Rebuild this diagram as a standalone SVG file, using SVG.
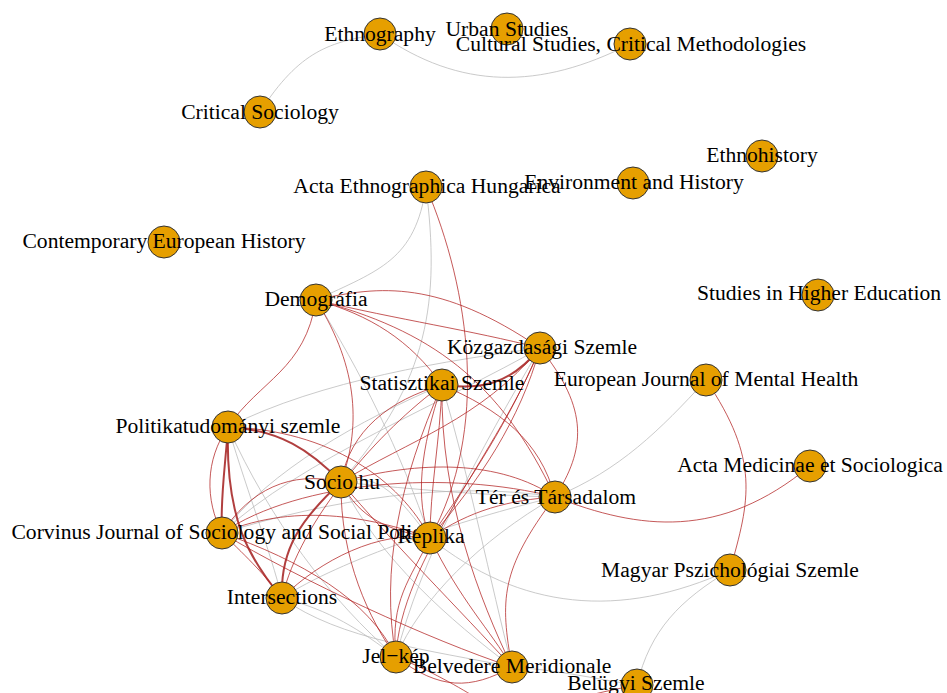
<svg xmlns="http://www.w3.org/2000/svg" width="947" height="693" viewBox="0 0 947 693">
<style>
.g{fill:none;stroke:#b8b8b8;stroke-opacity:0.75;stroke-width:1}
.r{fill:none;stroke:#b22222;stroke-opacity:0.75;stroke-width:1}
.rt{fill:none;stroke:#a31d1d;stroke-opacity:0.85;stroke-width:2}
.n circle{fill:#E69F00;stroke:#333333;stroke-width:1}
.n text{font-family:"Liberation Serif","Times New Roman",serif;font-size:21.6px;fill:#000;text-anchor:middle}
</style>
<rect width="947" height="693" fill="#ffffff"/>
<g id="connectors">
<path class="g" d="M380,34 C330,42 300,50 260,112"/>
<path class="g" d="M380,34 C460,90 540,90 630,44"/>
<path class="g" d="M426,187 C415,260 380,270 316,300"/>
<path class="g" d="M426,187 C440,300 430,380 341,482"/>
<path class="g" d="M316,300 C360,370 400,450 430,538"/>
<path class="g" d="M540,348 C450,360 320,380 228,427"/>
<path class="g" d="M540,348 C450,400 300,460 222,533"/>
<path class="g" d="M442,385 C360,420 270,470 222,533"/>
<path class="g" d="M228,427 C250,500 270,550 282,598"/>
<path class="g" d="M228,427 C270,520 330,600 396,657"/>
<path class="g" d="M341,482 C420,490 480,495 555,497"/>
<path class="g" d="M222,533 C330,500 450,480 555,497"/>
<path class="g" d="M282,598 C330,610 360,630 396,657"/>
<path class="g" d="M282,598 C340,640 430,650 512,667"/>
<path class="g" d="M430,538 C520,610 620,620 730,570"/>
<path class="g" d="M555,497 C620,470 660,430 706,380"/>
<path class="g" d="M730,570 C680,600 650,630 637,685"/>
<path class="g" d="M512,667 C560,670 600,680 637,685"/>
<path class="g" d="M555,497 C480,540 420,600 396,657"/>
<path class="g" d="M540,348 C480,450 420,560 396,657"/>
<path class="g" d="M442,385 C470,480 490,580 512,667"/>
<path class="g" d="M341,482 C380,560 450,620 512,667"/>
<path class="g" d="M282,598 C340,560 460,520 555,497"/>
<path class="g" d="M341,482 C380,470 400,500 430,538"/>
<path class="r" d="M316,300 C380,285 440,280 540,348"/>
<path class="r" d="M316,300 C370,315 410,340 442,385"/>
<path class="r" d="M316,300 C430,330 500,380 555,497"/>
<path class="r" d="M316,300 C400,320 470,330 540,348"/>
<path class="r" d="M316,300 C305,370 260,380 228,427"/>
<path class="r" d="M316,300 C360,370 360,430 341,482"/>
<path class="r" d="M426,187 C470,290 490,430 430,538"/>
<path class="rt" d="M540,348 C510,385 480,390 442,385"/>
<path class="r" d="M540,348 C590,410 585,450 555,497"/>
<path class="r" d="M540,348 C510,420 470,480 430,538"/>
<path class="r" d="M540,348 C480,420 410,440 341,482"/>
<path class="r" d="M540,348 C500,450 400,560 396,657"/>
<path class="r" d="M442,385 C500,410 540,440 555,497"/>
<path class="r" d="M442,385 C440,440 430,490 430,538"/>
<path class="r" d="M442,385 C420,450 415,500 430,538"/>
<path class="r" d="M442,385 C390,400 350,430 341,482"/>
<path class="r" d="M442,385 C400,480 380,570 396,657"/>
<path class="r" d="M442,385 C440,500 480,600 512,667"/>
<path class="r" d="M442,385 C380,430 300,520 282,598"/>
<path class="rt" d="M228,427 C280,430 310,450 341,482"/>
<path class="rt" d="M228,427 C225,470 220,500 222,533"/>
<path class="r" d="M228,427 C205,460 205,500 222,533"/>
<path class="rt" d="M228,427 C225,520 250,560 282,598"/>
<path class="r" d="M228,427 C330,430 400,480 430,538"/>
<path class="rt" d="M341,482 C300,520 280,550 282,598"/>
<path class="r" d="M341,482 C290,470 250,490 222,533"/>
<path class="r" d="M341,482 C360,520 390,530 430,538"/>
<path class="r" d="M341,482 C420,460 500,460 555,497"/>
<path class="r" d="M341,482 C340,560 370,620 396,657"/>
<path class="r" d="M341,482 C390,540 460,610 512,667"/>
<path class="r" d="M222,533 C250,560 265,575 282,598"/>
<path class="r" d="M222,533 C300,500 380,520 430,538"/>
<path class="r" d="M222,533 C300,560 370,600 396,657"/>
<path class="r" d="M222,533 C300,480 450,470 555,497"/>
<path class="r" d="M222,533 C300,580 430,640 512,667"/>
<path class="r" d="M282,598 C320,560 380,530 430,538"/>
<path class="r" d="M430,538 C410,580 390,600 396,657"/>
<path class="r" d="M430,538 C460,600 490,630 512,667"/>
<path class="r" d="M430,538 C470,510 510,500 555,497"/>
<path class="r" d="M430,538 C480,480 520,420 540,348"/>
<path class="r" d="M555,497 C640,530 720,540 810,466"/>
<path class="r" d="M555,497 C500,570 500,600 512,667"/>
<path class="r" d="M706,380 C760,460 750,500 730,570"/>
<path class="r" d="M396,657 C440,690 470,690 512,667"/>
<path class="r" d="M396,657 C430,670 460,688 480,700"/>
<path class="r" d="M637,685 C610,690 590,695 570,700"/>
</g>
<g id="nodes">
<g class="n" id="n-ethnography"><circle cx="380" cy="34" r="16"/><text x="380" y="41">Ethnography</text></g>
<g class="n" id="n-urban"><circle cx="507" cy="29" r="16"/><text x="507" y="36">Urban Studies</text></g>
<g class="n" id="n-cultural"><circle cx="630" cy="44" r="16"/><text x="631" y="51">Cultural Studies, Critical Methodologies</text></g>
<g class="n" id="n-critsoc"><circle cx="260" cy="112" r="16"/><text x="260" y="119">Critical Sociology</text></g>
<g class="n" id="n-ethnohistory"><circle cx="762" cy="156" r="16"/><text x="762" y="162">Ethnohistory</text></g>
<g class="n" id="n-environment"><circle cx="633" cy="183" r="16"/><text x="634" y="189">Environment and History</text></g>
<g class="n" id="n-aeh"><circle cx="426" cy="187" r="16"/><text x="427" y="193">Acta Ethnographica Hungarica</text></g>
<g class="n" id="n-ceh"><circle cx="164" cy="242" r="16"/><text x="164" y="248">Contemporary European History</text></g>
<g class="n" id="n-she"><circle cx="818" cy="295" r="16"/><text x="819" y="300">Studies in Higher Education</text></g>
<g class="n" id="n-demografia"><circle cx="316" cy="300" r="16"/><text x="316" y="306">Demográfia</text></g>
<g class="n" id="n-kozgazdasagi"><circle cx="540" cy="348" r="16"/><text x="542" y="354">Közgazdasági Szemle</text></g>
<g class="n" id="n-statisztikai"><circle cx="442" cy="385" r="16"/><text x="442" y="390">Statisztikai Szemle</text></g>
<g class="n" id="n-ejmh"><circle cx="706" cy="380" r="16"/><text x="706" y="386">European Journal of Mental Health</text></g>
<g class="n" id="n-politika"><circle cx="228" cy="427" r="16"/><text x="228" y="433">Politikatudományi szemle</text></g>
<g class="n" id="n-ams"><circle cx="810" cy="466" r="16"/><text x="810" y="472">Acta Medicinae et Sociologica</text></g>
<g class="n" id="n-sociohu"><circle cx="341" cy="482" r="16"/><text x="342" y="489">Socio.hu</text></g>
<g class="n" id="n-ter"><circle cx="555" cy="497" r="16"/><text x="556" y="504">Tér és Társadalom</text></g>
<g class="n" id="n-corvinus"><circle cx="222" cy="533" r="16"/><text x="222" y="539">Corvinus Journal of Sociology and Social Policy</text></g>
<g class="n" id="n-replika"><circle cx="430" cy="538" r="16"/><text x="431" y="543">Replika</text></g>
<g class="n" id="n-magyar"><circle cx="730" cy="570" r="16"/><text x="730" y="577">Magyar Pszichológiai Szemle</text></g>
<g class="n" id="n-intersections"><circle cx="282" cy="598" r="16"/><text x="282" y="604">Intersections</text></g>
<g class="n" id="n-jelkep"><circle cx="396" cy="657" r="16"/><text x="396" y="663">Jel−kép</text></g>
<g class="n" id="n-belvedere"><circle cx="512" cy="667" r="16"/><text x="512" y="673">Belvedere Meridionale</text></g>
<g class="n" id="n-belugyi"><circle cx="637" cy="685" r="16"/><text x="636" y="690">Belügyi Szemle</text></g>
</g>
</svg>
